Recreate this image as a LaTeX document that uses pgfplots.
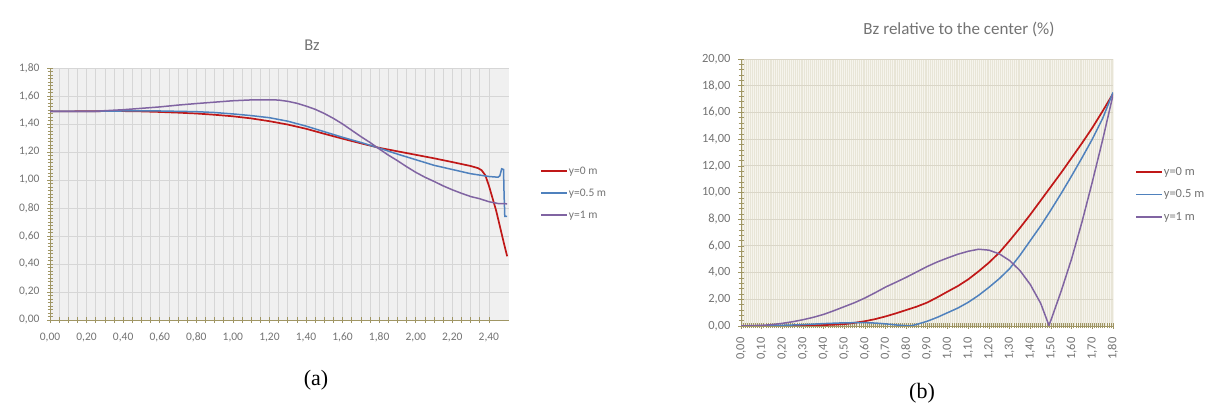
\documentclass[border=0pt]{standalone}
\usepackage{fontspec}
\setmainfont{Carlito}
\newfontfamily\capfont{Liberation Serif}
\usepackage{pgfplots}
\pgfplotsset{compat=1.18}
\definecolor{cred}{RGB}{192,24,24}
\definecolor{cblue}{RGB}{79,129,189}
\definecolor{cpurple}{RGB}{128,100,162}
\definecolor{ctext}{RGB}{115,115,115}
\definecolor{caxis}{RGB}{160,150,100}
\definecolor{bgA}{RGB}{240,240,240}
\definecolor{gridA}{RGB}{214,214,214}
\definecolor{bgB}{RGB}{232,229,215}
\definecolor{stripeB}{RGB}{246,244,237}
\definecolor{gridB}{RGB}{218,214,200}
\pgfplotsset{
  legimg/.style={legend image code/.code={\draw[##1] (0pt,0pt) -- (26pt,0pt);}},
}
\begin{document}
\begin{tikzpicture}[x=1pt,y=1pt]
\path[use as bounding box] (0,0) rectangle (1213,407);
% ---------------- (a) ----------------
\begin{axis}[
  at={(50pt,87pt)}, anchor=origin,
  scale only axis, width=459pt, height=252pt,
  xmin=0, xmax=2.51, ymin=0, ymax=1.8,
  axis background/.style={fill=bgA},
  axis x line*=bottom, axis y line*=left,
  axis line style={draw=caxis, line width=0.8pt},
  every tick/.style={draw=caxis, line width=0.6pt},
  tick align=center, major tick length=6pt, minor tick length=5pt,
  xtick={0,0.2,0.4,0.6,0.8,1.0,1.2,1.4,1.6,1.8,2.0,2.2,2.4},
  ytick={0,0.2,0.4,0.6,0.8,1.0,1.2,1.4,1.6,1.8},
  minor x tick num=3, minor y tick num=7,
  xmajorgrids, ymajorgrids, xminorgrids,
  major grid style={draw=gridA, line width=0.7pt},
  minor grid style={draw=gridA, line width=0.7pt},
  scaled ticks=false,
  /pgf/number format/assume math mode=true,
  tick label style={font=\fontsize{11.5}{12}\selectfont, text=ctext,
    /pgf/number format/fixed, /pgf/number format/fixed zerofill,
    /pgf/number format/precision=2, /pgf/number format/use comma},
  xticklabel style={anchor=north, yshift=-6pt, text height=8pt, text depth=2pt},
  yticklabel style={xshift=-4pt},
  legend style={at={(1.0675,0.615)}, anchor=north west, draw=none, fill=none,
    font=\fontsize{11.5}{13}\selectfont, text=ctext, row sep=10pt, inner sep=0pt,
    nodes={inner sep=1pt, text height=8pt, text depth=2pt}},
  legend cell align=left, legimg,
]
\addplot[cred, line width=1.7pt] coordinates {
(0,1.490)(0.10,1.490)(0.20,1.491)(0.30,1.492)(0.40,1.492)(0.50,1.490)(0.60,1.486)
(0.70,1.481)(0.80,1.475)(0.90,1.466)(1.00,1.455)(1.10,1.440)(1.20,1.420)(1.30,1.396)
(1.40,1.366)(1.50,1.330)(1.60,1.295)(1.70,1.262)(1.80,1.230)(1.90,1.205)(2.00,1.180)
(2.10,1.155)(2.20,1.128)(2.30,1.100)(2.34,1.085)(2.36,1.070)(2.38,1.035)(2.40,0.960)
(2.42,0.870)(2.44,0.780)(2.46,0.670)(2.48,0.560)(2.50,0.455)};
\addlegendentry{y=0 m}
\addplot[cblue, line width=1.5pt] coordinates {
(0,1.490)(0.20,1.490)(0.40,1.493)(0.60,1.493)(0.80,1.488)(0.90,1.482)(1.00,1.472)
(1.10,1.460)(1.20,1.445)(1.30,1.420)(1.40,1.385)(1.50,1.345)(1.60,1.305)(1.70,1.268)
(1.80,1.228)(1.90,1.185)(2.00,1.145)(2.10,1.105)(2.20,1.075)(2.30,1.045)(2.40,1.025)
(2.45,1.020)(2.46,1.030)(2.47,1.080)(2.48,1.075)(2.483,0.900)(2.487,0.740)(2.50,0.740)};
\addlegendentry{y=0.5 m}
\addplot[cpurple, line width=1.5pt] coordinates {
(0,1.490)(0.25,1.491)(0.30,1.495)(0.40,1.502)(0.50,1.512)(0.60,1.522)(0.70,1.535)
(0.80,1.546)(0.90,1.556)(1.00,1.566)(1.10,1.572)(1.20,1.573)(1.25,1.571)(1.30,1.562)
(1.35,1.548)(1.40,1.528)(1.45,1.505)(1.50,1.475)(1.55,1.440)(1.60,1.400)(1.65,1.355)
(1.70,1.310)(1.75,1.268)(1.80,1.222)(1.85,1.178)(1.90,1.138)(1.95,1.095)(2.00,1.055)
(2.05,1.020)(2.10,0.990)(2.15,0.958)(2.20,0.930)(2.25,0.905)(2.30,0.882)(2.35,0.866)
(2.40,0.845)(2.45,0.832)(2.50,0.830)};
\addlegendentry{y=1 m}
\end{axis}
\node[font=\fontsize{16.5}{18}\selectfont, text=ctext] at (312,362) {Bz};
\node[font=\capfont\fontsize{22}{24}\selectfont] at (316,27) {(a)};
% ---------------- (b) ----------------
\begin{axis}[
  at={(741pt,81pt)}, anchor=origin,
  scale only axis, width=372pt, height=267pt,
  xmin=0, xmax=1.8, ymin=0, ymax=20,
  axis background/.style={fill=bgB},
  axis x line*=bottom, axis y line*=left,
  axis line style={draw=caxis, line width=0.8pt},
  every tick/.style={draw=caxis, line width=0.5pt},
  tick align=center, major tick length=6pt, minor tick length=5pt,
  xtick={0,0.1,0.2,0.3,0.4,0.5,0.6,0.7,0.8,0.9,1.0,1.1,1.2,1.3,1.4,1.5,1.6,1.7,1.8},
  ytick={0,2,4,6,8,10,12,14,16,18,20},
  minor x tick num=9, minor y tick num=4,
  xmajorgrids, ymajorgrids, xminorgrids,
  major x grid style={draw=stripeB, line width=0.9pt},
  minor x grid style={draw=stripeB, line width=0.9pt},
  major y grid style={draw=gridB, line width=0.8pt},
  scaled ticks=false,
  /pgf/number format/assume math mode=true,
  tick label style={font=\fontsize{12.5}{14}\selectfont, text=ctext,
    /pgf/number format/fixed, /pgf/number format/fixed zerofill,
    /pgf/number format/precision=2, /pgf/number format/use comma},
  xticklabel style={rotate=90, anchor=east, xshift=-5pt},
  yticklabel style={xshift=-4pt},
  legend style={at={(1.059,0.60)}, anchor=north west, draw=none, fill=none,
    font=\fontsize{12.5}{14}\selectfont, text=ctext, row sep=10pt, inner sep=0pt,
    nodes={inner sep=1pt, text height=8.5pt, text depth=2pt}},
  legend cell align=left, legimg,
]
\addplot[cred, line width=1.7pt] coordinates {
(0,0)(0.20,0)(0.25,0.01)(0.30,0.02)(0.35,0.04)(0.40,0.07)(0.45,0.10)(0.50,0.14)
(0.55,0.24)(0.60,0.36)(0.65,0.52)(0.70,0.72)(0.75,0.95)(0.80,1.20)(0.85,1.45)
(0.90,1.75)(0.95,2.15)(1.00,2.58)(1.05,3.00)(1.10,3.50)(1.15,4.10)(1.20,4.75)
(1.25,5.50)(1.30,6.40)(1.35,7.35)(1.40,8.35)(1.45,9.40)(1.50,10.45)(1.55,11.50)
(1.60,12.60)(1.65,13.70)(1.70,14.85)(1.75,16.10)(1.80,17.40)};
\addlegendentry{y=0 m}
\addplot[cblue, line width=1.5pt] coordinates {
(0,0)(0.10,0.00)(0.20,0.05)(0.30,0.10)(0.40,0.18)(0.50,0.24)(0.60,0.25)(0.65,0.22)
(0.70,0.16)(0.75,0.08)(0.80,0.02)(0.82,0.00)(0.85,0.12)(0.90,0.35)(0.95,0.65)
(1.00,1.00)(1.05,1.35)(1.10,1.78)(1.15,2.30)(1.20,2.90)(1.25,3.55)(1.30,4.30)
(1.35,5.30)(1.40,6.40)(1.45,7.50)(1.50,8.70)(1.55,9.95)(1.60,11.25)(1.65,12.60)
(1.70,14.00)(1.75,15.55)(1.80,17.50)};
\addlegendentry{y=0.5 m}
\addplot[cpurple, line width=1.5pt] coordinates {
(0,0)(0.10,0.05)(0.15,0.10)(0.20,0.20)(0.25,0.32)(0.30,0.47)(0.35,0.65)(0.40,0.87)
(0.45,1.15)(0.50,1.45)(0.55,1.75)(0.60,2.10)(0.65,2.50)(0.70,2.92)(0.75,3.28)
(0.80,3.65)(0.85,4.05)(0.90,4.45)(0.95,4.80)(1.00,5.10)(1.05,5.38)(1.10,5.60)
(1.15,5.75)(1.20,5.68)(1.25,5.40)(1.30,4.90)(1.35,4.15)(1.40,3.10)(1.45,1.70)
(1.49,0.05)(1.50,0.45)(1.55,2.65)(1.60,5.05)(1.65,7.80)(1.70,10.80)(1.75,13.95)
(1.80,17.30)};
\addlegendentry{y=1 m}
\end{axis}
\node[font=\fontsize{17}{19}\selectfont, text=ctext] at (959,378) {Bz relative to the center (\%)};
\node[font=\capfont\fontsize{22}{24}\selectfont] at (922,14) {(b)};
\end{tikzpicture}
\end{document}
